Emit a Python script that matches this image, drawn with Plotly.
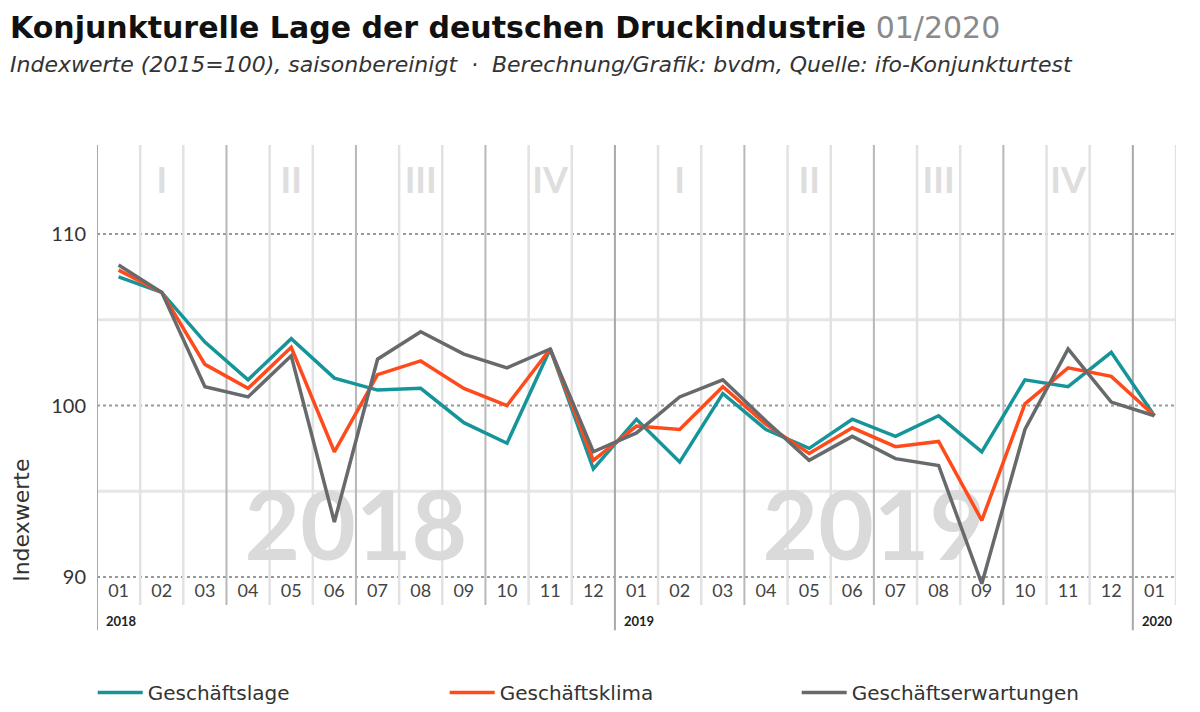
import plotly.graph_objects as go

months = ["01", "02", "03", "04", "05", "06", "07", "08", "09", "10", "11", "12",
          "01", "02", "03", "04", "05", "06", "07", "08", "09", "10", "11", "12",
          "01"]

geschaeftslage = [107.5, 106.6, 103.7, 101.5, 103.9, 101.6, 100.9, 101.0, 99.0, 97.8, 103.3, 96.3,
                  99.2, 96.7, 100.7, 98.6, 97.5, 99.2, 98.2, 99.4, 97.3, 101.5, 101.1, 103.1,
                  99.4]
geschaeftsklima = [107.9, 106.6, 102.4, 101.0, 103.4, 97.3, 101.8, 102.6, 101.0, 100.0, 103.3, 96.8,
                   98.8, 98.6, 101.1, 98.9, 97.2, 98.7, 97.6, 97.9, 93.3, 100.1, 102.2, 101.7,
                   99.4]
geschaeftserwartungen = [108.2, 106.6, 101.1, 100.5, 102.9, 93.2, 102.7, 104.3, 103.0, 102.2, 103.3, 97.3,
                         98.4, 100.5, 101.5, 99.1, 96.8, 98.2, 96.9, 96.5, 89.6, 98.6, 103.3, 100.2,
                         99.4]

quarter_labels = ["I", "II", "III", "IV", "I", "II", "III", "IV"]
quarter_pos = [1, 4, 7, 10, 13, 16, 19, 22]
year_marks = ["2018", "2019"]
year_mark_pos = [5.5, 17.5]
year_labels = ["2018", "2019", "2020"]
year_label_pos = [0, 12, 24]

TEAL = "#15959a"
ORANGE = "#ff4b1c"
GRAY = "#676a6d"
FONT = "Lato"
WIDE = "DejaVu Sans"
YMIN, YMAX = 88.36, 115.2

fig = go.Figure()

# watermark text below the lines
fig.add_trace(go.Scatter(x=year_mark_pos, y=[92.4, 92.4], mode="text", text=year_marks,
                         textfont=dict(family=FONT, size=96, color="#dadada", weight="bold"),
                         showlegend=False, hoverinfo="skip"))
fig.add_trace(go.Scatter(x=quarter_pos, y=[112.95] * 8, mode="text", text=quarter_labels,
                         textfont=dict(family=FONT, size=36, color="#dedede", weight="bold"),
                         showlegend=False, hoverinfo="skip"))
fig.add_trace(go.Scatter(x=list(range(len(months))), y=[89.1] * len(months), mode="text",
                         text=months, textfont=dict(family=FONT, size=18, color="#444"),
                         showlegend=False, hoverinfo="skip"))

for name, vals, col in [("Geschäftslage", geschaeftslage, TEAL),
                        ("Geschäftsklima", geschaeftsklima, ORANGE),
                        ("Geschäftserwartungen", geschaeftserwartungen, GRAY)]:
    fig.add_trace(go.Scatter(x=list(range(len(vals))), y=vals, mode="lines", name=name,
                             line=dict(color=col, width=3.5)))

shapes = []
# horizontal grid
for v in [105, 95]:
    shapes.append(dict(type="line", xref="paper", x0=0, x1=1, yref="y", y0=v, y1=v,
                       line=dict(color="#e6e6e6", width=3), layer="below"))
for v in [110, 100, 90]:
    shapes.append(dict(type="line", xref="paper", x0=0, x1=1, yref="y", y0=v, y1=v,
                       line=dict(color="#999", width=2, dash="dot"), layer="below"))
# vertical grid at month boundaries
for i in range(len(months) + 1):
    b = i - 0.5
    if i in (0, 12, 24):
        shapes.append(dict(type="line", xref="x", x0=b, x1=b, yref="paper", y0=-0.055, y1=1,
                           line=dict(color="#a8a8a8", width=2), layer="below"))
    elif i % 3 == 0:
        shapes.append(dict(type="line", xref="x", x0=b, x1=b, yref="paper", y0=0, y1=1,
                           line=dict(color="#b8b8b8", width=2), layer="below"))
    else:
        shapes.append(dict(type="line", xref="x", x0=b, x1=b, yref="paper", y0=0, y1=1,
                           line=dict(color="#e2e2e2", width=2.5), layer="below"))

annotations = [
    dict(text="<b>Konjunkturelle Lage der deutschen Druckindustrie</b> "
              "<span style='color:#8a8a8a'>01/2020</span>",
         xref="paper", yref="paper", x=-0.0825, y=1.255, xanchor="left", yanchor="middle",
         showarrow=False, font=dict(family=WIDE, size=30, color="#111")),
    dict(text="<i>Indexwerte (2015=100), saisonbereinigt  ·  Berechnung/Grafik: bvdm, "
              "Quelle: ifo-Konjunkturtest</i>",
         xref="paper", yref="paper", x=-0.0825, y=1.174, xanchor="left", yanchor="middle",
         showarrow=False, font=dict(family=WIDE, size=22, color="#333")),
    dict(text="Indexwerte", textangle=-90, xref="paper", yref="paper", x=-0.0695, y=0.183,
         xanchor="center", yanchor="middle", showarrow=False,
         font=dict(family=WIDE, size=22, color="#333")),
]
for lbl, p in zip(year_labels, year_label_pos):
    annotations.append(dict(text=f"<b>{lbl}</b>", xref="x", yref="paper", x=p - 0.5, y=-0.035,
                            xanchor="left", yanchor="middle", showarrow=False, xshift=7,
                            font=dict(family=FONT, size=13, color="#222")))

fig.update_layout(
    width=1200, height=712,
    margin=dict(l=89, r=32, t=137, b=115, autoexpand=False),
    plot_bgcolor="white", paper_bgcolor="white",
    font=dict(family=FONT, color="#333"),
    xaxis=dict(range=[-0.5, 24.5], showgrid=False, zeroline=False, showticklabels=False,
               fixedrange=True),
    yaxis=dict(range=[YMIN, YMAX], tickvals=[90, 100, 110], showgrid=False, zeroline=False,
               tickfont=dict(family=FONT, size=20, color="#333"), ticks="", ticklabelstandoff=10),
    shapes=shapes,
    annotations=annotations,
    legend=dict(orientation="h", x=-0.004, y=-0.19, xanchor="left", yanchor="middle",
                itemwidth=45, entrywidth=292, font=dict(family=WIDE, size=20, color="#333")),
    showlegend=True,
)

fig.write_html("out.html")
